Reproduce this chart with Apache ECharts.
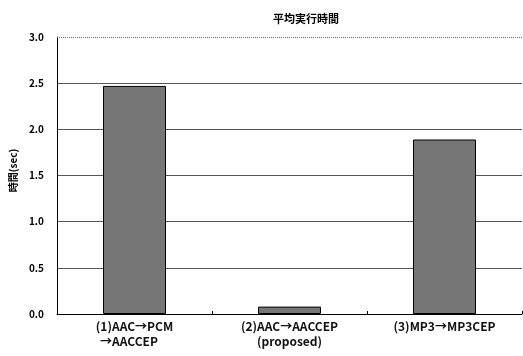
<!DOCTYPE html>
<html><head><meta charset="utf-8">
<script src="https://cdn.jsdelivr.net/npm/echarts@6/dist/echarts.min.js"></script>
<style>html,body{margin:0;padding:0;background:#fff}#c{width:523px;height:356px}</style>
</head><body><div id="c"></div>
<script>
const title = '平均実行時間';
const yName = '時間(sec)';
const categories = ['(1)AAC→PCM\n→AACCEP    ', '(2)AAC→AACCEP\n(proposed)', '(3)MP3→MP3CEP'];
const values = [2.47, 0.08, 1.89];
const yMin = 0, yMax = 3.0, yStep = 0.5;

const font = '"Noto Sans CJK JP", "Liberation Sans", sans-serif';
const chart = echarts.init(document.getElementById('c'), null, {renderer: 'canvas'});
chart.setOption({
  animation: false,
  backgroundColor: '#fff',
  title: {
    text: title, left: 301, top: 8, textAlign: 'center',
    textStyle: {fontFamily: font, fontSize: 11, fontWeight: 'bold', color: '#000'}
  },
  grid: {left: 57, right: 1, top: 37, bottom: 42, containLabel: false},
  xAxis: {
    type: 'category', data: categories,
    axisLine: {show: true, lineStyle: {color: '#000', width: 1}},
    axisTick: {show: true, inside: true, length: 3, lineStyle: {color: '#000'}},
    axisLabel: {fontFamily: font, fontSize: 12, fontWeight: 'bold', color: '#111', margin: 5, lineHeight: 15, interval: 0}
  },
  yAxis: {
    type: 'value', min: yMin, max: yMax, interval: yStep,
    name: yName, nameLocation: 'middle', nameGap: 38, nameRotate: 90,
    nameTextStyle: {fontFamily: font, fontSize: 10, fontWeight: 'bold', color: '#000', padding: [0, 0, 0, 10]},
    axisLine: {show: true, lineStyle: {color: '#000', width: 1}},
    axisTick: {show: false},
    axisLabel: {fontFamily: font, fontSize: 10, fontWeight: 'bold', color: '#000', margin: 13,
      formatter: v => v.toFixed(1)},
    splitLine: {show: true, lineStyle: {color: ['#555','#555','#555','#555','#555','#555','rgba(0,0,0,0)'], width: 1, type: 'solid'}}
  },
  series: [{
    type: 'bar', data: values, barWidth: 63,
    itemStyle: {color: '#767676', borderColor: '#000', borderWidth: 1},
    markLine: {
      silent: true, symbol: 'none', label: {show: false},
      lineStyle: {color: '#777', type: [1, 1], width: 1},
      data: [{yAxis: yMax}]
    }
  }]
});
</script></body></html>
